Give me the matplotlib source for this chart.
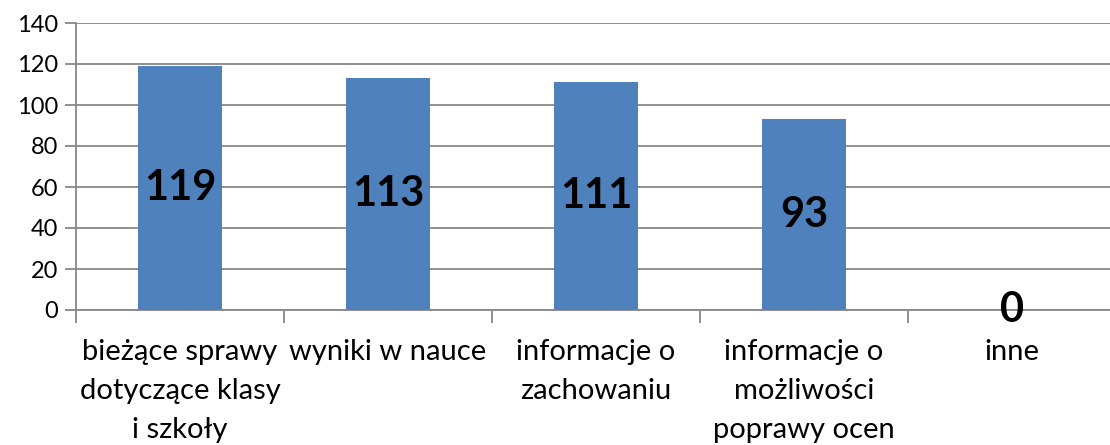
import numpy as np
import matplotlib.pyplot as plt

categories = ['bieżące sprawy\ndotyczące klasy\ni szkoły', 'wyniki w nauce',
              'informacje o\nzachowaniu', 'informacje o\nmożliwości\npoprawy ocen', 'inne']
values = [119, 113, 111, 93, 0]
yticks = [0, 20, 40, 60, 80, 100, 120, 140]

plt.rcParams['font.family'] = ['Lato', 'DejaVu Sans']

fig = plt.figure(figsize=(11.1, 4.45), dpi=100)
ax = fig.add_axes([76 / 1110, 135 / 445, 1040 / 1110, 287 / 445])

x = np.arange(len(values))
ax.bar(x, values, width=0.4, color='#4F81BD', zorder=3)
for xi, v in zip(x, values):
    ax.text(xi, v / 2, str(v), ha='center', va='center', fontsize=30,
            fontweight='bold', color='black', zorder=4)

ax.set_xlim(-0.5, len(values) - 0.5)
ax.set_ylim(0, 140)
ax.set_yticks(yticks)
ax.set_yticklabels([str(t) for t in yticks], fontsize=17)
ax.yaxis.grid(True, color='#888888', linewidth=1.3, zorder=0)

ax.set_xticks(x)
ax.set_xticklabels(categories, fontsize=21, linespacing=1.62)
ax.set_xticks(np.arange(len(values)) - 0.5, minor=True)
ax.tick_params(axis='x', which='major', length=0, pad=21)
ax.tick_params(axis='x', which='minor', length=9, color='#888888', width=1.3)
ax.tick_params(axis='y', length=8, color='#888888', width=1.3, pad=5)

for s in ['top', 'right']:
    ax.spines[s].set_visible(False)
for s in ['left', 'bottom']:
    ax.spines[s].set_color('#888888')
    ax.spines[s].set_linewidth(1.3)

fig.savefig('out.png', dpi=100)
